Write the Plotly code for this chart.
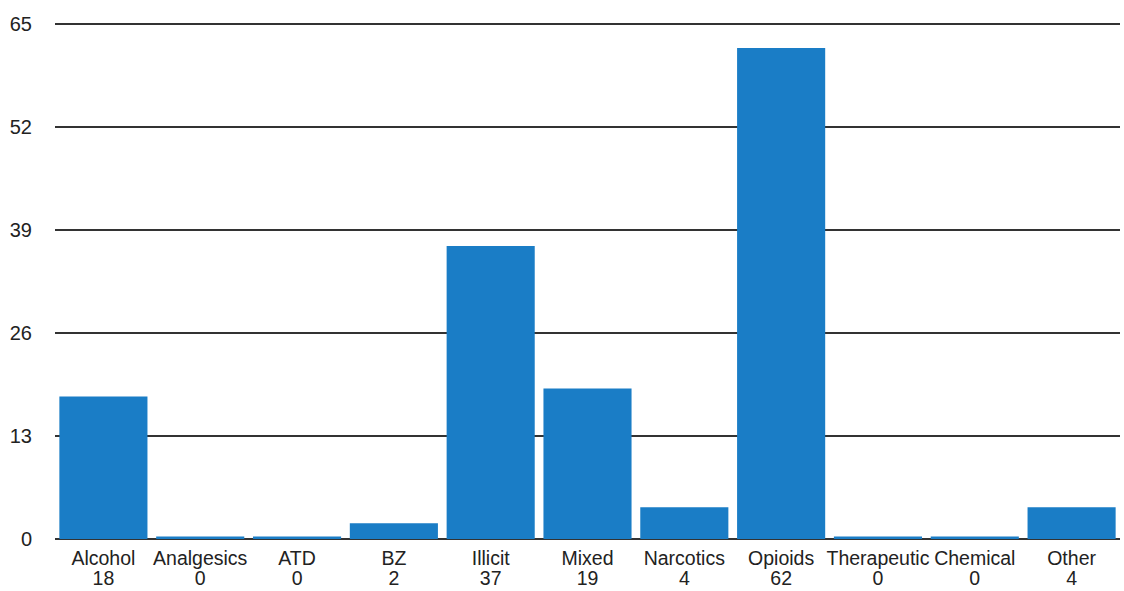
import plotly.graph_objects as go

categories = ["Alcohol", "Analgesics", "ATD", "BZ", "Illicit", "Mixed",
              "Narcotics", "Opioids", "Therapeutic", "Chemical", "Other"]
counts = [18, 0, 0, 2, 37, 19, 4, 62, 0, 0, 4]
y_ticks = [0, 13, 26, 39, 52, 65]

# zero-count categories are drawn as a thin sliver straddling the axis
ZERO_HALF = 0.3
bar_base = [-ZERO_HALF if v == 0 else 0 for v in counts]
bar_len = [2 * ZERO_HALF if v == 0 else v for v in counts]
tick_text = [f"<span style='font-size:19.5px'>{c}</span><br>"
             f"<span style='font-size:19.5px'>{v}</span>"
             for c, v in zip(categories, counts)]

fig = go.Figure()
fig.add_trace(go.Bar(
    x=categories, y=bar_len, base=bar_base,
    marker=dict(color="#1a7dc6", line=dict(width=0)),
    hoverinfo="skip",
))

fig.update_layout(
    width=1124, height=591,
    margin=dict(l=55, r=4, t=23, b=52, autoexpand=False),
    paper_bgcolor="white", plot_bgcolor="white",
    bargap=0.09,
    showlegend=False,
    font=dict(family="Liberation Sans, Arial, sans-serif", size=20, color="#222"),
)
fig.update_xaxes(
    tickmode="array", tickvals=categories, ticktext=tick_text,
    showgrid=False, showline=False, ticks="", zeroline=False,
    automargin=False,
    tickfont=dict(size=15.2, color="#222"),
    ticklabelstandoff=10,
    range=[-0.5, len(categories) - 0.5],
)
fig.update_yaxes(
    range=[0, 65.15], tickmode="array", tickvals=y_ticks,
    showgrid=True, gridcolor="#333", gridwidth=1.6,
    zeroline=True, zerolinecolor="#333", zerolinewidth=1.6,
    showline=False, ticks="", automargin=False,
    ticklabelstandoff=22,
    tickfont=dict(size=20, color="#222"),
)

fig.write_html(
    "out.html",
    config={"displayModeBar": False},
    post_script="document.body.style.margin='0';document.body.style.overflow='hidden';",
)
